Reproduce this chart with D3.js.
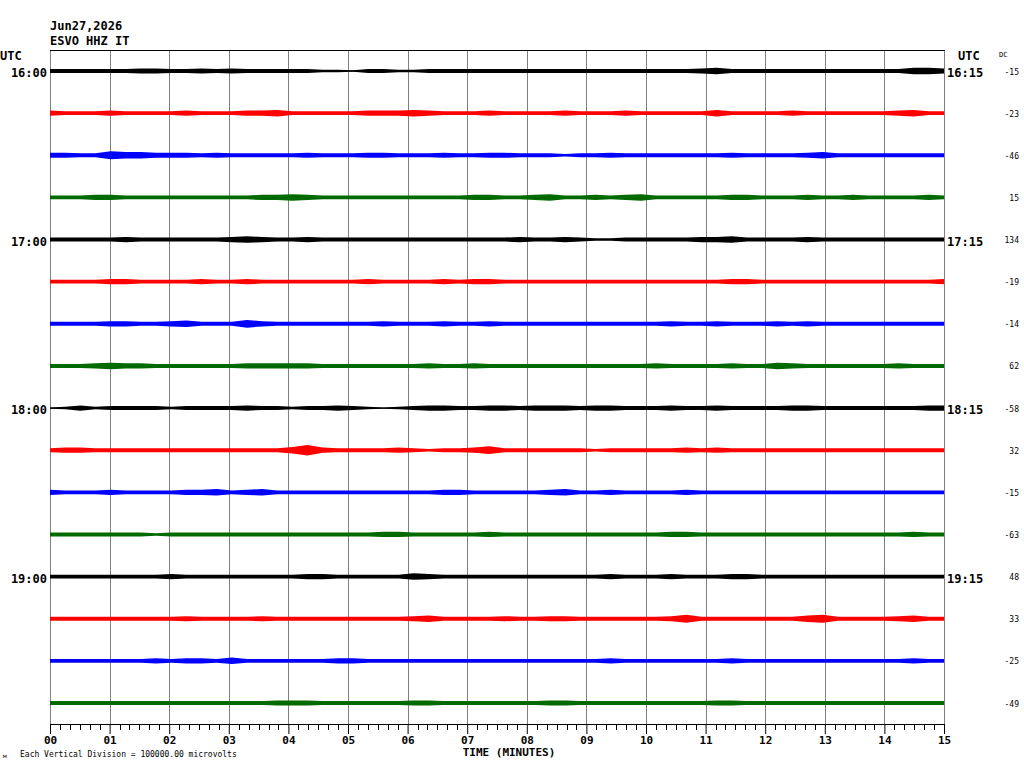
<!DOCTYPE html>
<html>
<head>
<meta charset="utf-8">
<script src="https://cdn.jsdelivr.net/npm/d3@7/dist/d3.min.js"></script>
<style>
  body { margin: 0; background: #fff; }
  text { font-family: "DejaVu Sans Mono", monospace; }
</style>
</head>
<body>
<script>
/*global d3 */

var width = 1024,
    height = 768;

// header text
var plotDate = "Jun27,2026";
var stationName = "ESVO HHZ IT";
var scaleNote = "Each Vertical Division = 100000.00 microvolts";

// one row per 15 minutes, label only on the full hour
var leftLabels = ["16:00", "", "", "", "17:00", "", "", "", "18:00", "", "", "", "19:00", "", "", ""];
var rightLabels = ["16:15", "", "", "", "17:15", "", "", "", "18:15", "", "", "", "19:15", "", "", ""];
var dcOffset = [-15, -23, -46, 15, 134, -19, -14, 62, -58, 32, -15, -63, 48, 33, -25, -49];
var traceColors = ["#000000", "#ff0000", "#0000ff", "#006a00"];
var minuteTicks = d3.range(0, 16);

// envelope of each trace, one value every 15 s (relative amplitude)
var envelope = [
  [3,3,3,3, 3,3,4,4, 3,3,4,3, 4,3,3,3, 3,3,2,2, 1,3,3,2, 2,3,3,3, 3,3,3,3, 3,3,3,3, 3,3,3,3, 3,3,3,4, 5,3,3,3, 3,3,3,3, 3,3,3,3, 3,5,5,4],
  [4,3,3,3, 4,3,3,3, 3,4,3,3, 3,4,4,5, 3,3,3,3, 3,4,4,4, 5,4,3,3, 3,4,3,3, 3,3,4,3, 3,3,4,3, 3,3,3,3, 5,3,3,3, 3,4,3,3, 3,3,3,3, 4,5,3,3],
  [4,4,3,3, 6,5,5,4, 4,4,3,4, 3,3,3,3, 3,4,3,3, 3,4,4,3, 3,3,4,3, 3,4,4,3, 3,3,2,3, 3,4,3,3, 3,3,3,3, 3,4,3,3, 3,3,4,5, 3,3,3,3, 3,3,3,3],
  [3,3,3,4, 4,3,3,3, 3,3,3,3, 3,3,4,4, 5,4,3,3, 3,3,3,3, 3,3,3,3, 4,4,3,3, 4,5,3,3, 4,3,4,5, 3,3,3,3, 3,4,4,3, 3,3,4,3, 3,4,3,3, 3,3,4,3],
  [3,3,3,3, 3,4,3,3, 3,3,3,3, 4,5,4,3, 3,4,3,3, 3,3,3,3, 3,3,3,3, 3,3,3,4, 3,3,4,3, 2,2,3,3, 3,3,3,4, 4,5,3,3, 3,3,4,3, 3,3,3,3, 3,3,3,3],
  [3,3,3,3, 4,4,3,3, 3,3,4,3, 3,4,3,3, 3,3,3,3, 3,4,3,3, 3,3,4,3, 4,4,3,3, 3,3,3,3, 3,3,3,3, 3,3,3,3, 3,4,4,3, 3,3,3,3, 3,3,3,3, 3,3,3,4],
  [3,3,3,3, 4,4,3,3, 4,5,3,3, 3,6,4,3, 3,3,3,3, 3,3,4,3, 3,3,4,3, 3,4,3,3, 3,3,3,3, 3,3,3,3, 3,4,3,3, 4,3,3,3, 4,3,4,3, 3,3,3,3, 3,3,3,3],
  [3,3,3,4, 5,4,4,3, 3,3,3,3, 3,4,4,4, 4,4,3,3, 3,3,3,3, 3,4,3,3, 4,3,3,3, 3,3,3,3, 3,3,3,3, 4,3,3,3, 3,4,3,3, 5,4,3,3, 3,3,3,3, 4,3,3,3],
  [1,2,4,2, 3,3,3,3, 2,3,3,3, 3,4,3,3, 2,3,3,4, 3,2,1,2, 3,4,4,3, 3,4,4,3, 4,4,4,3, 4,4,3,3, 3,4,3,3, 4,3,3,3, 3,4,4,3, 3,3,3,3, 3,3,4,4],
  [3,4,4,3, 3,3,3,3, 3,3,3,3, 3,3,3,3, 5,8,4,3, 3,3,3,4, 3,2,3,3, 4,6,3,3, 3,3,3,3, 2,3,3,3, 3,3,4,3, 4,3,3,3, 3,3,3,3, 3,3,3,3, 3,3,3,3],
  [4,3,3,3, 4,3,3,3, 3,4,4,5, 3,4,5,3, 3,3,3,3, 3,3,3,3, 3,3,4,4, 3,3,3,3, 3,4,5,3, 3,4,3,3, 3,3,4,3, 3,3,3,3, 3,3,3,3, 3,3,3,3, 3,3,3,3],
  [3,3,3,3, 3,3,3,2, 3,3,3,3, 3,3,3,3, 3,3,3,3, 3,3,4,4, 3,3,3,3, 3,4,3,3, 3,3,3,3, 3,3,3,3, 3,4,4,3, 3,3,3,3, 3,3,3,3, 3,3,3,3, 3,4,3,3],
  [3,3,3,3, 3,3,3,3, 4,3,3,3, 3,3,3,3, 3,4,4,3, 3,3,3,3, 5,4,3,3, 3,3,3,3, 3,3,3,3, 3,4,3,3, 3,4,3,3, 3,4,4,3, 3,3,3,3, 3,3,3,3, 3,3,3,3],
  [3,3,3,3, 3,3,3,3, 3,4,3,3, 3,3,4,3, 3,3,3,3, 3,3,3,3, 4,5,3,3, 3,3,4,3, 3,4,4,3, 3,3,3,3, 3,4,6,3, 3,3,3,3, 3,3,5,6, 3,3,3,3, 4,5,3,3],
  [3,3,3,3, 3,3,3,4, 3,4,4,3, 5,3,3,3, 3,3,3,4, 4,3,3,3, 3,3,3,3, 3,3,3,3, 3,3,3,3, 3,4,3,3, 3,3,3,3, 3,4,3,3, 3,3,3,3, 3,3,3,3, 3,4,3,3],
  [3,3,3,3, 3,3,3,3, 3,3,3,3, 3,3,3,4, 4,4,3,3, 3,3,3,3, 4,4,3,3, 3,3,3,3, 3,4,4,3, 3,3,3,3, 3,3,3,3, 4,4,3,3, 3,3,3,3, 3,3,3,3, 3,3,3,3]
];

var svg = d3.select("body")
    .append("svg")
    .attr("width", width)
    .attr("height", height);

// minutes across, one row every 15 minutes down
var x = d3.scaleLinear().domain([0, 15]).range([50, 944]);
var y = d3.scalePoint().domain(d3.range(leftLabels.length)).range([71, 703]);
var amp = d3.scaleLinear().domain([0, 10]).range([0, 6.5]);

var plotTop = 50, plotBottom = 724;

// minute grid
svg.append("g")
    .selectAll("line")
    .data(minuteTicks)
    .enter().append("line")
    .attr("x1", function(d) { return Math.round(x(d)) + 0.5; })
    .attr("x2", function(d) { return Math.round(x(d)) + 0.5; })
    .attr("y1", plotTop)
    .attr("y2", plotBottom)
    .style("stroke", "#808080")
    .style("stroke-width", 1)
    .style("shape-rendering", "crispEdges");

svg.append("line")
    .attr("x1", x(0)).attr("x2", x(15) + 1)
    .attr("y1", plotTop + 0.5).attr("y2", plotTop + 0.5)
    .style("stroke", "#000")
    .style("shape-rendering", "crispEdges");

// traces drawn as filled envelopes around each row's baseline
var area = d3.area()
    .x(function(d, i, arr) { return x(i * 15 / (arr.length - 1)); })
    .y0(function(d) { return -amp(d); })
    .y1(function(d) { return amp(d); });

var rows = svg.append("g")
    .selectAll("g")
    .data(envelope)
    .enter().append("g")
    .attr("transform", function(d, i) { return "translate(0," + y(i) + ")"; });

rows.append("path")
    .attr("d", function(d) { return area(d); })
    .style("fill", function(d, i) { return traceColors[i % 4]; });

rows.append("line")
    .attr("x1", x(0)).attr("x2", x(15))
    .style("stroke", function(d, i) { return traceColors[i % 4]; })
    .style("stroke-width", 1);

// time labels either side, DC offset column on the far right
svg.append("g")
    .selectAll("text")
    .data(leftLabels)
    .enter().append("text")
    .attr("x", 47)
    .attr("y", function(d, i) { return y(i) + 6; })
    .attr("text-anchor", "end")
    .style("font-size", "12px")
    .style("font-weight", "bold")
    .text(function(d) { return d; });

svg.append("g")
    .selectAll("text")
    .data(rightLabels)
    .enter().append("text")
    .attr("x", 947)
    .attr("y", function(d, i) { return y(i) + 6; })
    .style("font-size", "12px")
    .style("font-weight", "bold")
    .text(function(d) { return d; });

svg.append("g")
    .selectAll("text")
    .data(dcOffset)
    .enter().append("text")
    .attr("x", 1019)
    .attr("y", function(d, i) { return y(i) + 3.5; })
    .attr("text-anchor", "end")
    .style("font-size", "8px")
    .text(function(d) { return d; });

svg.append("text").attr("x", 0).attr("y", 60)
    .style("font-size", "12px").style("font-weight", "bold").text("UTC");
svg.append("text").attr("x", 958).attr("y", 60)
    .style("font-size", "12px").style("font-weight", "bold").text("UTC");
svg.append("text").attr("x", 999).attr("y", 57)
    .style("font-size", "7px").text("DC");

svg.append("text").attr("x", 50).attr("y", 30)
    .style("font-size", "12px").style("font-weight", "bold").text(plotDate);
svg.append("text").attr("x", 50).attr("y", 45)
    .style("font-size", "12px").style("font-weight", "bold").text(stationName);

// time axis: ticks every 10 s, labels every minute
var axis = d3.axisBottom(x)
    .tickValues(minuteTicks)
    .tickFormat(function(d) { return d3.format("02d")(d); })
    .tickSize(10)
    .tickPadding(2);

var gAxis = svg.append("g")
    .attr("transform", "translate(0," + plotBottom + ")")
    .call(axis);

gAxis.select(".domain").attr("d", "M" + x(0) + ",0.5H" + (x(15) + 1));
gAxis.selectAll("text")
    .style("font-family", "DejaVu Sans Mono")
    .style("font-size", "11px")
    .style("font-weight", "bold")
    .style("fill", "#000");

gAxis.append("g")
    .selectAll("line")
    .data(d3.range(0, 15 * 6).filter(function(d) { return d % 6 !== 0; }))
    .enter().append("line")
    .attr("x1", function(d) { return Math.round(x(d / 6)) + 0.5; })
    .attr("x2", function(d) { return Math.round(x(d / 6)) + 0.5; })
    .attr("y1", 0)
    .attr("y2", 6)
    .style("stroke", "#000");

svg.append("text").attr("x", 509).attr("y", 756)
    .attr("text-anchor", "middle")
    .style("font-size", "11px").style("font-weight", "bold")
    .text("TIME (MINUTES)");

svg.append("text").attr("x", 20).attr("y", 757)
    .style("font-size", "8px").text(scaleNote);
svg.append("text").attr("x", 3).attr("y", 758)
    .style("font-size", "6px").text("м");
</script>
</body>
</html>
